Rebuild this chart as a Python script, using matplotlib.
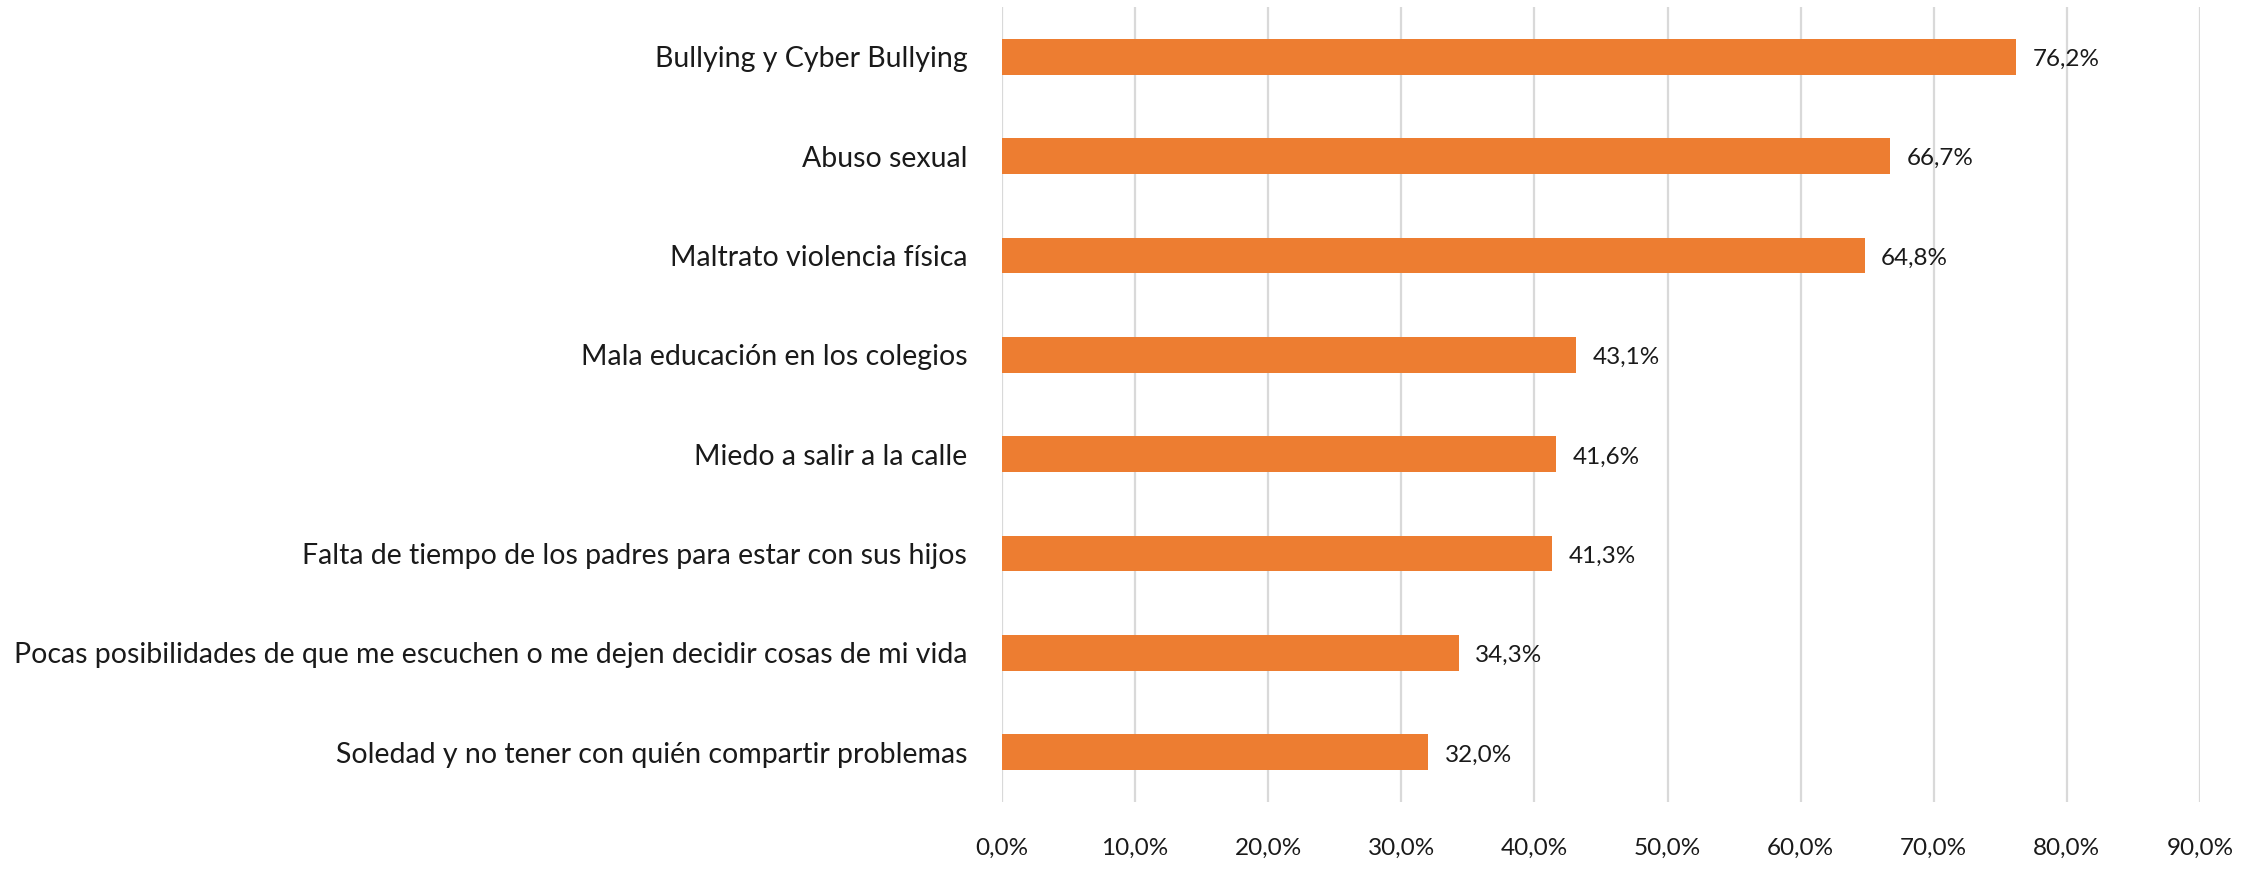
import matplotlib
matplotlib.use("Agg")
import matplotlib.pyplot as plt
from matplotlib.ticker import FuncFormatter, MultipleLocator

categories = [
    "Bullying y Cyber Bullying",
    "Abuso sexual",
    "Maltrato violencia física",
    "Mala educación en los colegios",
    "Miedo a salir a la calle",
    "Falta de tiempo de los padres para estar con sus hijos",
    "Pocas posibilidades de que me escuchen o me dejen decidir cosas de mi vida",
    "Soledad y no tener con quién compartir problemas",
]
values = [0.762, 0.667, 0.648, 0.431, 0.416, 0.413, 0.343, 0.320]

plt.rcParams['font.family'] = ['Lato', 'DejaVu Sans']

W, H, DPI = 2267, 871, 100
fig = plt.figure(figsize=(W / DPI, H / DPI), dpi=DPI)
ax = fig.add_axes([1002 / W, 1 - 802 / H, (2200 - 1002) / W, (802 - 7) / H])

ypos = list(range(len(categories)))
bars = ax.barh(ypos, values, height=0.36, color="#ED7D31", zorder=3)
ax.set_ylim(len(categories) - 0.5, -0.5)
ax.set_xlim(0, 0.9)
ax.set_yticks(ypos)
ax.set_yticklabels(categories, fontsize=20.5, color="#1a1a1a")
ax.xaxis.set_major_locator(MultipleLocator(0.1))
ax.xaxis.set_major_formatter(FuncFormatter(lambda v, p: f"{v*100:.1f}%".replace(".", ",")))
ax.tick_params(axis="x", labelsize=17.5, length=0, pad=26, colors="#1a1a1a")
ax.tick_params(axis="y", length=0, pad=25)
ax.grid(axis="x", color="#d9d9d9", linewidth=1.6, zorder=0)
for s in ax.spines.values():
    s.set_visible(False)

for b, v in zip(bars, values):
    ax.annotate(f"{v*100:.1f}%".replace(".", ","),
                xy=(b.get_width(), b.get_y() + b.get_height() / 2),
                xytext=(12, -2), textcoords="offset points",
                va="center", ha="left", fontsize=17.5, color="#1a1a1a")

fig.savefig("out.png", dpi=DPI, facecolor="white")
